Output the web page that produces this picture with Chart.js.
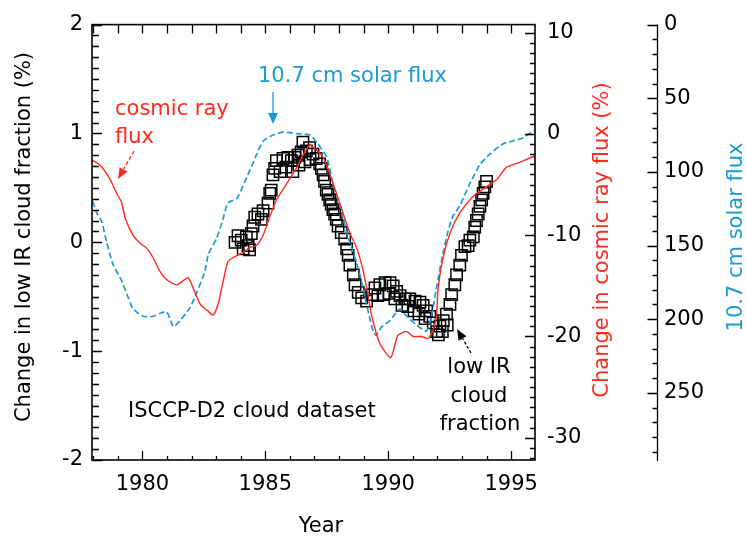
<!DOCTYPE html>
<html>
<head>
<meta charset="utf-8">
<script src="https://cdn.jsdelivr.net/npm/chart.js@4"></script>
<style>
  html, body { margin: 0; padding: 0; background: #fff; }
</style>
</head>
<body>
<canvas id="chart" width="746" height="537"></canvas>
<script>
const RED = '#ff2a1f';
const BLUE = '#1b9ad6';
const FONT = '21px "DejaVu Sans"';

// tick labels
const xTicks = [1980, 1985, 1990, 1995];
const cloudTicks = [-2, -1, 0, 1, 2];
const cosmicTicks = [-30, -20, -10, 0, 10];
const solarTicks = [0, 50, 100, 150, 200, 250];

// cosmic ray flux, change in %
const cosmicYears = [
  1977.96, 1978.28, 1978.69, 1978.96, 1979.16, 1979.31, 1979.62, 1979.91, 1980.18, 1980.43,
  1980.72, 1980.99, 1981.40, 1981.86, 1982.06, 1982.35, 1982.67, 1982.88, 1983.08, 1983.28,
  1983.48, 1983.69, 1984.09, 1984.38, 1984.65, 1984.91, 1985.19, 1985.46, 1985.87, 1986.28,
  1986.53, 1986.82, 1987.09, 1987.35, 1987.63, 1987.90, 1988.16, 1988.44, 1988.72, 1988.97,
  1989.17, 1989.33, 1989.66, 1990.10, 1990.39, 1990.75, 1991.00, 1991.36, 1991.61, 1991.82,
  1991.97, 1992.02, 1992.22, 1992.51, 1992.91, 1993.44, 1994.00, 1994.41, 1994.81, 1995.35,
  1995.83, 1995.97];
const cosmicValues = [
  -2.6, -3.1, -4.5, -5.9, -6.8, -8.4, -10.0, -10.8, -11.3, -12.2,
  -13.6, -14.4, -14.9, -14.2, -15.2, -16.8, -17.5, -17.9, -16.8, -14.6,
  -12.6, -12.2, -11.7, -11.2, -11.0, -10.0, -8.1, -6.5, -4.9, -3.3,
  -2.1, -1.1, -1.6, -2.3, -4.0, -5.9, -7.8, -9.8, -11.3, -13.4,
  -15.8, -18.0, -20.7, -22.1, -19.9, -19.5, -20.0, -20.0, -20.2, -19.4,
  -17.8, -15.5, -12.3, -9.8, -7.8, -6.2, -5.2, -4.5, -3.3, -2.8,
  -2.3, -2.2];

// 10.7 cm solar flux (axis reversed)
const solarYears = [
  1977.98, 1978.15, 1978.35, 1978.55, 1978.81, 1979.16, 1979.37, 1979.62, 1980.03, 1980.43,
  1980.72, 1980.99, 1981.26, 1981.53, 1981.94, 1982.21, 1982.55, 1982.68, 1983.02, 1983.28,
  1983.48, 1983.84, 1984.24, 1984.50, 1984.65, 1984.91, 1985.31, 1985.72, 1986.28, 1986.82,
  1987.09, 1987.50, 1987.75, 1988.04, 1988.31, 1988.56, 1988.85, 1989.12, 1989.38, 1989.50,
  1989.74, 1990.07, 1990.47, 1990.75, 1991.15, 1991.56, 1991.76, 1991.97, 1992.22, 1992.42,
  1992.63, 1992.91, 1993.32, 1993.73, 1994.13, 1994.66, 1995.07, 1995.47, 1995.83, 1995.97];
const solarValues = [
  120, 128, 134, 148, 163, 174, 183, 193, 198, 198,
  196, 195, 205, 201, 192, 182, 167, 156, 145, 132,
  121, 118, 104, 94, 88, 79, 75, 73, 74, 75,
  80, 90, 108, 123, 141, 154, 170, 190, 208, 211,
  205, 201, 193, 198, 204, 208, 198, 178, 156, 141,
  130, 123, 108, 95, 88, 81, 79, 77, 73, 72];

// low IR cloud fraction, change in %
const cloudYears = [
  1983.77, 1983.89, 1984.02, 1984.10, 1984.23, 1984.30, 1984.36, 1984.43, 1984.50, 1984.57,
  1984.70, 1984.84, 1984.91, 1985.11, 1985.18, 1985.24, 1985.31, 1985.38, 1985.45, 1985.60,
  1985.72, 1985.84, 1985.92, 1986.06, 1986.12, 1986.20, 1986.33, 1986.37, 1986.46, 1986.53,
  1986.61, 1986.67, 1986.80, 1986.82, 1986.94, 1987.07, 1987.21, 1987.28, 1987.35, 1987.41,
  1987.48, 1987.55, 1987.62, 1987.68, 1987.75, 1987.82, 1987.89, 1987.96, 1988.09, 1988.23,
  1988.31, 1988.37, 1988.44, 1988.58, 1988.65, 1988.78, 1988.92, 1989.12, 1989.33, 1989.46,
  1989.58, 1989.66, 1989.83, 1989.87, 1990.03, 1990.07, 1990.20, 1990.27, 1990.34, 1990.48,
  1990.56, 1990.68, 1990.80, 1990.88, 1991.05, 1991.09, 1991.25, 1991.29, 1991.42, 1991.50,
  1991.56, 1991.69, 1991.83, 1991.97, 1992.04, 1992.10, 1992.20, 1992.24, 1992.37, 1992.40,
  1992.51, 1992.58, 1992.71, 1992.78, 1992.91, 1992.98, 1993.12, 1993.25, 1993.32, 1993.46,
  1993.52, 1993.59, 1993.66, 1993.73, 1993.80, 1993.86, 1993.93, 1994.00];
const cloudValues = [
  0.00, 0.06, 0.02, -0.06, 0.05, -0.03, -0.07, 0.08, 0.15, 0.23,
  0.26, 0.21, 0.29, 0.36, 0.45, 0.48, 0.62, 0.68, 0.75, 0.65,
  0.77, 0.69, 0.78, 0.75, 0.65, 0.78, 0.80, 0.71, 0.83, 0.92,
  0.74, 0.84, 0.87, 0.76, 0.81, 0.77, 0.72, 0.68, 0.62, 0.56,
  0.48, 0.44, 0.39, 0.35, 0.30, 0.26, 0.21, 0.15, 0.09, 0.03,
  -0.06, -0.12, -0.21, -0.30, -0.39, -0.46, -0.51, -0.54, -0.48, -0.42,
  -0.49, -0.39, -0.48, -0.37, -0.47, -0.37, -0.40, -0.52, -0.45, -0.49,
  -0.58, -0.52, -0.59, -0.52, -0.63, -0.54, -0.66, -0.55, -0.58, -0.70,
  -0.63, -0.68, -0.74, -0.82, -0.85, -0.77, -0.82, -0.72, -0.66, -0.76,
  -0.57, -0.48, -0.39, -0.30, -0.21, -0.12, -0.04, -0.03, 0.02, 0.05,
  0.14, 0.20, 0.26, 0.33, 0.39, 0.45, 0.51, 0.56];

const pts = (xs, ys) => xs.map((x, i) => ({ x: x, y: ys[i] }));
const fixTicks = arr => scale => { scale.ticks = arr.map(v => ({ value: v })); };

function arrow(ctx, x1, y1, x2, y2, color, dash, head, width) {
  const ang = Math.atan2(y2 - y1, x2 - x1);
  ctx.save();
  ctx.strokeStyle = color;
  ctx.fillStyle = color;
  ctx.lineWidth = 1.3;
  ctx.setLineDash(dash);
  ctx.beginPath();
  ctx.moveTo(x1, y1);
  ctx.lineTo(x2 - Math.cos(ang) * head, y2 - Math.sin(ang) * head);
  ctx.stroke();
  ctx.setLineDash([]);
  ctx.beginPath();
  ctx.moveTo(x2, y2);
  ctx.lineTo(x2 - Math.cos(ang) * head - Math.sin(ang) * width / 2, y2 - Math.sin(ang) * head + Math.cos(ang) * width / 2);
  ctx.lineTo(x2 - Math.cos(ang) * head + Math.sin(ang) * width / 2, y2 - Math.sin(ang) * head - Math.cos(ang) * width / 2);
  ctx.closePath();
  ctx.fill();
  ctx.restore();
}

function vtext(ctx, text, x, y, color) {
  ctx.save();
  ctx.translate(x, y);
  ctx.rotate(-Math.PI / 2);
  ctx.textAlign = 'center';
  ctx.textBaseline = 'middle';
  ctx.fillStyle = color;
  ctx.fillText(text, 0, 0);
  ctx.restore();
}

const decor = {
  id: 'decor',
  afterDraw(chart) {
    const ctx = chart.ctx;
    const a = chart.chartArea;
    const sx = chart.scales.x, yl = chart.scales.yL, yc = chart.scales.yC, ys = chart.scales.yS;
    ctx.save();
    ctx.strokeStyle = '#000';
    ctx.lineWidth = 1.6;
    ctx.strokeRect(a.left, a.top, a.right - a.left, a.bottom - a.top);

    // inward tick marks
    ctx.lineWidth = 1.3;
    ctx.beginPath();
    for (let yr = 1978; yr <= 1995; yr++) {
      const px = Math.round(sx.getPixelForValue(yr)) + 0.5;
      ctx.moveTo(px, a.bottom);
      ctx.lineTo(px, a.bottom - (yr % 5 === 0 ? 9 : 4));
      ctx.moveTo(px, a.top);
      ctx.lineTo(px, a.top + 9);
    }
    for (let i = -20; i <= 20; i++) {
      const py = Math.round(yl.getPixelForValue(i / 10)) + 0.5;
      ctx.moveTo(a.left, py);
      ctx.lineTo(a.left + (i % 10 === 0 ? 10 : 7), py);
    }
    for (let v = -32; v <= 10; v++) {
      const py = Math.round(yc.getPixelForValue(v)) + 0.5;
      ctx.moveTo(a.right, py);
      ctx.lineTo(a.right - (v % 10 === 0 ? 10 : 5), py);
    }
    // solar flux axis, standing apart
    const sl = ys.left + 0.5;
    ctx.moveTo(sl, a.top);
    ctx.lineTo(sl, a.bottom + 1);
    for (let v = 0; v <= 290; v += 10) {
      const py = Math.round(ys.getPixelForValue(v)) + 0.5;
      ctx.moveTo(sl, py);
      ctx.lineTo(sl - (v % 50 === 0 ? 10 : 5), py);
    }
    ctx.stroke();

    // texts
    ctx.font = FONT;
    ctx.textBaseline = 'alphabetic';
    ctx.textAlign = 'left';
    ctx.fillStyle = RED;
    ctx.fillText('cosmic ray', 115, 115);
    ctx.fillText('flux', 115, 143);
    ctx.fillStyle = BLUE;
    ctx.fillText('10.7 cm solar flux', 258, 82);
    ctx.fillStyle = '#000';
    ctx.fillText('ISCCP-D2 cloud dataset', 128, 417);
    ctx.textAlign = 'center';
    ctx.fillText('low IR', 479, 373);
    ctx.fillText('cloud', 479, 402);
    ctx.fillText('fraction', 480, 430);
    ctx.fillText('Year', 321, 532);

    vtext(ctx, 'Change in low IR cloud fraction (%)', 25, 237, '#000');
    vtext(ctx, 'Change in cosmic ray flux (%)', 603, 240, RED);
    vtext(ctx, '10.7 cm solar flux', 737, 237, BLUE);

    arrow(ctx, 134, 151, 118, 179, RED, [4, 2], 11, 9);
    arrow(ctx, 273, 92, 273, 124, BLUE, [], 11, 10);
    arrow(ctx, 471, 353, 457, 329, '#000', [3, 2], 11, 9);
    ctx.restore();
  }
};

new Chart(document.getElementById('chart'), {
  type: 'scatter',
  data: {
    datasets: [
      {
        label: 'cosmic ray flux',
        data: pts(cosmicYears, cosmicValues),
        yAxisID: 'yC',
        showLine: true,
        borderColor: RED,
        borderWidth: 1.4,
        pointRadius: 0,
        tension: 0.2,
        order: 0
      },
      {
        label: '10.7 cm solar flux',
        data: pts(solarYears, solarValues),
        yAxisID: 'yS',
        showLine: true,
        borderColor: BLUE,
        borderWidth: 1.7,
        borderDash: [6, 3],
        pointRadius: 0,
        tension: 0.2,
        order: 1
      },
      {
        label: 'low IR cloud fraction',
        data: pts(cloudYears, cloudValues),
        yAxisID: 'yL',
        pointStyle: 'rect',
        pointRadius: 8,
        pointBorderWidth: 1.5,
        pointBorderColor: '#000',
        pointBackgroundColor: 'rgba(0,0,0,0)',
        order: 2
      }
    ]
  },
  options: {
    responsive: false,
    animation: false,
    events: [],
    layout: { padding: { top: 14, left: 0, right: 0, bottom: 0 } },
    font: { family: 'DejaVu Sans' },
    plugins: { legend: { display: false }, tooltip: { enabled: false } },
    scales: {
      x: {
        type: 'linear', position: 'bottom', min: 1977.95, max: 1995.97,
        afterBuildTicks: fixTicks(xTicks),
        afterFit: s => { s.height = 77; },
        grid: { display: false, drawTicks: false },
        border: { display: false },
        ticks: { color: '#000', padding: 12, autoSkip: false, maxRotation: 0,
                 font: { family: 'DejaVu Sans', size: 21 }, callback: v => String(v) }
      },
      yL: {
        type: 'linear', position: 'left', min: -2, max: 2,
        afterBuildTicks: fixTicks(cloudTicks),
        afterFit: s => { s.width = 92; },
        grid: { display: false, drawTicks: false },
        border: { display: false },
        ticks: { color: '#000', padding: 9, autoSkip: false,
                 font: { family: 'DejaVu Sans', size: 21 }, callback: v => String(v) }
      },
      yC: {
        type: 'linear', position: 'right', min: -32.2, max: 10.8,
        afterBuildTicks: fixTicks(cosmicTicks),
        afterFit: s => { s.width = 122; },
        grid: { display: false, drawTicks: false },
        border: { display: false },
        ticks: { color: '#000', padding: 12, autoSkip: false,
                 font: { family: 'DejaVu Sans', size: 21 }, callback: v => String(v) }
      },
      yS: {
        type: 'linear', position: 'right', reverse: true, min: 0, max: 295.6,
        afterBuildTicks: fixTicks(solarTicks),
        afterFit: s => { s.width = 89; },
        grid: { display: false, drawTicks: false },
        border: { display: false },
        ticks: { color: '#000', padding: 7, autoSkip: false,
                 font: { family: 'DejaVu Sans', size: 21 }, callback: v => String(v) }
      }
    }
  },
  plugins: [decor]
});
</script>
</body>
</html>
